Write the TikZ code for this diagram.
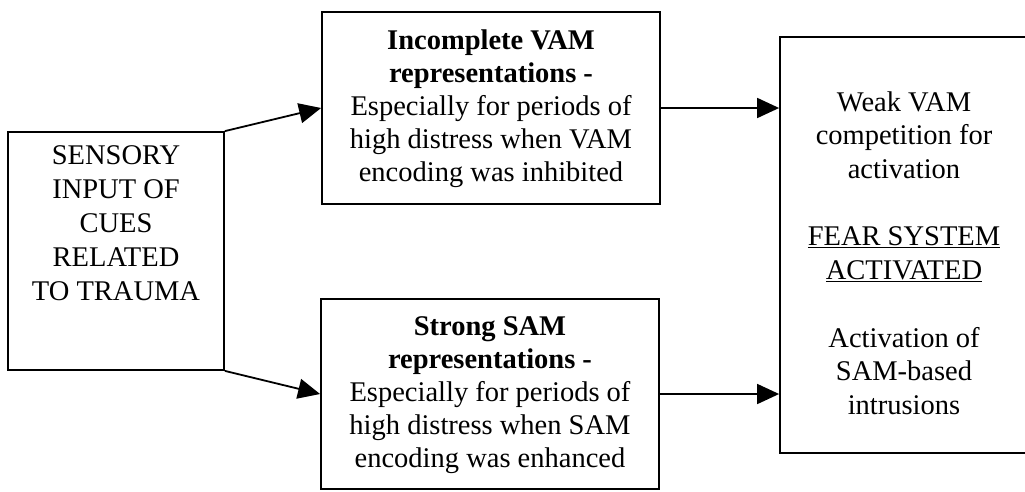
\documentclass[tikz,border=0pt]{standalone}
\usepackage{fontspec}
\setmainfont{Liberation Serif}
\usetikzlibrary{arrows.meta}
\begin{document}
\begin{tikzpicture}[x=1pt,y=-1pt,
  box/.style={draw=black,line width=1.8pt,rectangle,inner sep=0pt},
  txt/.style={align=center,inner sep=0pt,font=\fontsize{28.5}{33}\selectfont},
  conn/.style={line width=1.8pt,-{Triangle[length=22pt,width=20pt]}}]
\useasboundingbox (0,0) rectangle (1025,491);
% boxes
\node[box,minimum width=216pt,minimum height=238pt] (lb) at (116,251) {};
\node[box,minimum width=338pt,minimum height=192pt] (tb) at (491,108) {};
\node[box,minimum width=338pt,minimum height=190pt] (bb) at (490,394) {};
\node[box,minimum width=252pt,minimum height=416pt] (rb) at (906,245) {};
% texts
\node[txt,font=\fontsize{28.5}{34}\selectfont] (lt) at (116,223) {SENSORY\\INPUT OF\\CUES\\RELATED\\TO TRAUMA};
\node[txt] (tt) at (491,109) {\textbf{Incomplete VAM}\\\textbf{representations -}\\Especially for periods of\\high distress when VAM\\encoding was inhibited};
\node[txt] (bt) at (490,395) {\textbf{Strong SAM}\\\textbf{representations -}\\Especially for periods of\\high distress when SAM\\encoding was enhanced};
\node[txt,font=\fontsize{28.5}{33.7}\selectfont] (rt) at (904,253) {Weak VAM\\competition for\\activation\\[33.7pt]\underline{FEAR SYSTEM}\\\underline{ACTIVATED}\\[33.7pt]Activation of\\SAM-based\\intrusions};
% connectors
\draw[conn] (lb.north east) -- (tb.west);
\draw[conn] (lb.south east) -- (bb.west);
\draw[conn] (tb.east) -- (rb.west |- tb.east);
\draw[conn] (bb.east) -- (rb.west |- bb.east);
\end{tikzpicture}
\end{document}
